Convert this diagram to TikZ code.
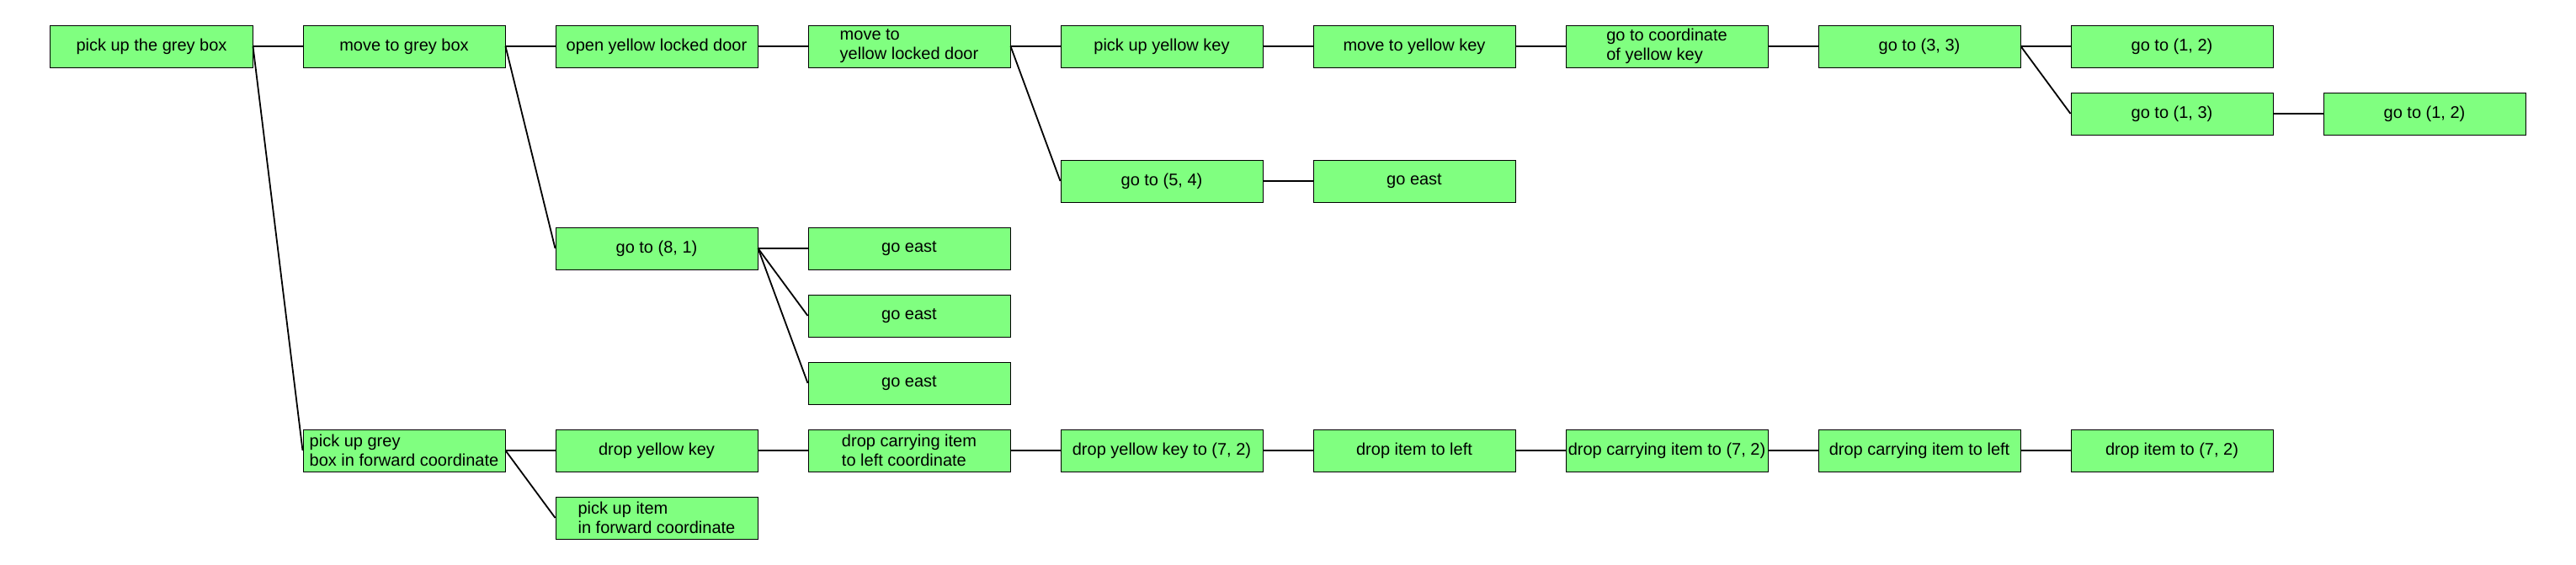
\documentclass[tikz,border=0pt]{standalone}
\usepackage{fontspec}
\setmainfont{Liberation Sans}
\usepackage{xcolor}
\usepackage{tikz}
\definecolor{taskgreen}{RGB}{128,255,128}

\begin{document}
\begin{tikzpicture}[x=150pt, y=-40pt,
  every node/.style={font=\fontsize{10}{11.5}\selectfont},
  task/.style={draw=black, line width=0.5pt, fill=taskgreen, minimum width=120pt,
    minimum height=25pt, inner sep=0pt, align=left},
  edge/.style={draw=black, line width=0.9pt}]
  \useasboundingbox (-90pt,27.5pt) rectangle (1440pt,-307.5pt);
  % main line
  \node[task] (a0) at (0,0) {pick up the grey box};
  \node[task] (a1) at (1,0) {move to grey box};
  \node[task] (a2) at (2,0) {open yellow locked door};
  \node[task] (a3) at (3,0) {move to\\yellow locked door};
  \node[task] (a4) at (4,0) {pick up yellow key};
  \node[task] (a5) at (5,0) {move to yellow key};
  \node[task] (a6) at (6,0) {go to coordinate\\of yellow key};
  \node[task] (a7) at (7,0) {go to (3, 3)};
  \node[task] (a8) at (8,0) {go to (1, 2)};
  \node[task] (b8) at (8,1) {go to (1, 3)};
  \node[task] (b9) at (9,1) {go to (1, 2)};
  \node[task] (c4) at (4,2) {go to (5, 4)};
  \node[task] (c5) at (5,2) {go east};
  % go to (8, 1) branch
  \node[task] (d2) at (2,3) {go to (8, 1)};
  \foreach \j in {3,4,5}
    \node[task] (e\j) at (3,\j) {go east};
  % lower branch
  \node[task] (g1) at (1,6) {pick up grey\\box in forward coordinate};
  \node[task] (g2) at (2,6) {drop yellow key};
  \node[task] (g3) at (3,6) {drop carrying item\\to left coordinate};
  \node[task] (g4) at (4,6) {drop yellow key to (7, 2)};
  \node[task] (g5) at (5,6) {drop item to left};
  \node[task] (g6) at (6,6) {drop carrying item to (7, 2)};
  \node[task] (g7) at (7,6) {drop carrying item to left};
  \node[task] (g8) at (8,6) {drop item to (7, 2)};
  \node[task] (h2) at (2,7) {pick up item\\in forward coordinate};
  % edges
  \foreach \p/\c in {a0/a1, a1/a2, a2/a3, a3/a4, a4/a5, a5/a6, a6/a7, a7/a8,
      a7/b8, b8/b9, a3/c4, c4/c5, a1/d2, d2/e3, d2/e4, d2/e5, a0/g1,
      g1/g2, g2/g3, g3/g4, g4/g5, g5/g6, g6/g7, g7/g8, g1/h2}
    \draw[edge] (\p.east) -- (\c.west);
\end{tikzpicture}
\end{document}
